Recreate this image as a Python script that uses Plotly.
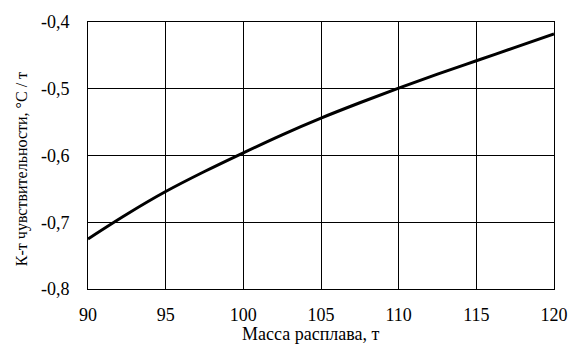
import plotly.graph_objects as go

mass = [90, 92.5, 95, 97.5, 100, 102.5, 105, 107.5, 110, 112.5, 115, 117.5, 120]
coef = [-0.725, -0.688, -0.654, -0.624, -0.596, -0.569, -0.544, -0.521, -0.499, -0.478, -0.458, -0.438, -0.418]

x_ticks = [90, 95, 100, 105, 110, 115, 120]
y_ticks = [-0.8, -0.7, -0.6, -0.5, -0.4]
y_labels = ["-0,8", "-0,7", "-0,6", "-0,5", "-0,4"]

x_title = "Масса расплава, т"
y_title = "К-т чувствительности, °С / т"

FONT = "'Liberation Serif', 'Times New Roman', Times, serif"

fig = go.Figure()
fig.add_trace(go.Scatter(x=mass, y=coef, mode="lines", line=dict(color="black", width=3, shape="spline"),
                         showlegend=False, hoverinfo="skip"))

fig.update_layout(
    width=569, height=350,
    margin=dict(l=88, r=15, t=22, b=61, autoexpand=False),
    paper_bgcolor="white", plot_bgcolor="white",
    font=dict(family=FONT, size=18, color="black"),
)
fig.update_xaxes(range=[90, 120], tickvals=x_ticks, ticktext=[str(v) for v in x_ticks],
                 tickfont=dict(family=FONT, size=18, color="black"),
                 showgrid=True, gridcolor="black", gridwidth=1,
                 showline=True, linecolor="black", linewidth=1, mirror=True,
                 ticks="outside", ticklen=9, tickcolor="rgba(0,0,0,0)",
                 zeroline=False, automargin=False)
fig.update_yaxes(range=[-0.8, -0.4], tickvals=y_ticks, ticktext=y_labels,
                 tickfont=dict(family=FONT, size=18, color="black"),
                 showgrid=True, gridcolor="black", gridwidth=1,
                 showline=True, linecolor="black", linewidth=1, mirror=True,
                 ticks="outside", ticklen=14, tickcolor="rgba(0,0,0,0)",
                 zeroline=False, automargin=False)

fig.add_annotation(text=x_title, xref="paper", yref="paper", x=0.4785, y=-0.168,
                   xanchor="center", yanchor="middle", showarrow=False,
                   font=dict(family=FONT, size=18, color="black"))
fig.add_annotation(text=y_title, xref="paper", yref="paper", x=-0.1416, y=0.449,
                   xanchor="center", yanchor="middle", showarrow=False, textangle=-90,
                   font=dict(family=FONT, size=16, color="black"))

fig.write_html("out.html")
